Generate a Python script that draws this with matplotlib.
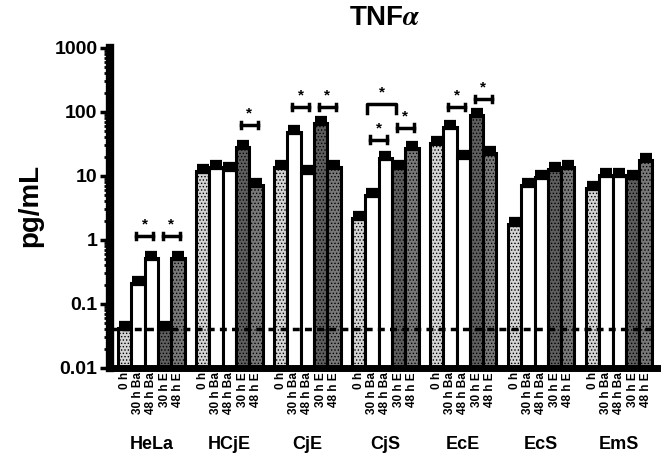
import numpy as np
import matplotlib
matplotlib.use("Agg")
import matplotlib.pyplot as plt
from matplotlib.ticker import FixedLocator, LogLocator, NullFormatter

plt.rcParams['font.family'] = ['Liberation Sans', 'DejaVu Sans']
plt.rcParams['font.weight'] = 'bold'
plt.rcParams['mathtext.fontset'] = 'stix'
plt.rcParams['hatch.linewidth'] = 0.6

cells = ["HeLa", "HCjE", "CjE", "CjS", "EcE", "EcS", "EmS"]
conditions = ["0 h", "30 h Ba", "48 h Ba", "30 h E", "48 h E"]

# TNFa, pg/mL (mean of each condition)
hela = [0.042, 0.21, 0.52, 0.042, 0.52]
hcje = [12, 14, 13, 28, 7.2]
cje = [14, 48, 11.5, 68, 14]
cjs = [2.2, 5.0, 19, 14, 27]
ece = [33, 58, 20, 90, 23]
ecs = [1.8, 7.2, 9.6, 13, 14]
ems = [6.5, 10.5, 10.5, 9.5, 18]
values = [hela, hcje, cje, cjs, ece, ecs, ems]

sem_frac = 0.16          # upper error as a fraction of the mean
detection_limit = 0.04

# (group, bar a, bar b, bracket level)
sig_pairs = [(0, 1, 2, 1.15), (0, 3, 4, 1.15), (1, 3, 4, 63),
             (2, 1, 2, 121), (2, 3, 4, 121), (3, 1, 2, 37), (3, 3, 4, 57),
             (4, 1, 2, 121), (4, 3, 4, 161)]
sig_long = [(3, 1, 3, 135)]

faces = ['#d4d4d4', 'white', 'white', '#5e5e5e', '#787878']
hatches = ['.....', None, None, '.....', '.....']

pitch = 5.86

fig = plt.figure(figsize=(6.69, 4.66), dpi=100)
ax = fig.add_axes([110 / 669, 1 - 368 / 466, 547 / 669, 320 / 466])

centers = []
for g, vals in enumerate(values):
    for j, v in enumerate(vals):
        x = g * pitch + j
        centers.append(x)
        ax.bar(x, v, width=1.0, color=faces[j], edgecolor='black',
               linewidth=2.2, hatch=hatches[j], zorder=2)
        ax.errorbar(x, v, yerr=[[0], [v * sem_frac]], fmt='none',
                    ecolor='black', elinewidth=3, capsize=4.5,
                    capthick=4.5, zorder=3)

ax.axhline(detection_limit, color='black', lw=2.5, dashes=(2, 1.5), zorder=5)

for g, a, b, lev in sig_pairs:
    x1 = g * pitch + a - 0.15
    x2 = g * pitch + b + 0.15
    ax.plot([x1, x2], [lev, lev], color='black', lw=2.5, zorder=4)
    for xx in (x1, x2):
        ax.plot([xx, xx], [lev / 1.12, lev * 1.12], color='black', lw=2.5, zorder=4)
    ax.annotate('*', ((x1 + x2) / 2, lev), xytext=(0, 3), textcoords='offset points',
                ha='center', va='bottom', fontsize=11)

for g, a, b, lev in sig_long:
    x1 = g * pitch + a - 0.35
    x2 = g * pitch + b - 0.2
    ax.plot([x1, x1, x2, x2], [lev / 1.38, lev, lev, lev / 1.38],
            color='black', lw=2.5, zorder=4)
    ax.annotate('*', ((x1 + x2) / 2, lev), xytext=(0, 3), textcoords='offset points',
                ha='center', va='bottom', fontsize=11)

ax.set_yscale('log')
ax.set_ylim(0.01, 1000)
ax.set_xlim(-1.1, 40.0)
ax.yaxis.set_major_locator(FixedLocator([0.01, 0.1, 1, 10, 100, 1000]))
ax.set_yticklabels(['0.01', '0.1', '1', '10', '100', '1000'], fontsize=14)
ax.yaxis.set_minor_locator(LogLocator(base=10, subs=np.arange(2, 10)))
ax.yaxis.set_minor_formatter(NullFormatter())
ax.tick_params(axis='y', which='major', length=7, width=2.5, pad=2)
ax.tick_params(axis='y', which='minor', length=4, width=2)

ax.set_xticks(centers)
ax.set_xticklabels(conditions * len(cells), rotation=90, fontsize=8.5)
ax.tick_params(axis='x', length=0, pad=3)

for g, name in enumerate(cells):
    ax.text(g * pitch + 2, -0.24, name, transform=ax.get_xaxis_transform(),
            ha='center', va='center', fontsize=13)

for side in ('top', 'right'):
    ax.spines[side].set_visible(False)
ax.spines['left'].set_linewidth(6)
ax.spines['bottom'].set_linewidth(5)

fig.text(385 / 669, 1 - 25 / 466, 'TNF$\\alpha$', ha='center', va='baseline',
         fontsize=20, fontweight='bold')
fig.text(30 / 669, 1 - 205 / 466, 'pg/mL', rotation=90, ha='center',
         va='center', fontsize=20)

fig.savefig('out.png', dpi=100)
